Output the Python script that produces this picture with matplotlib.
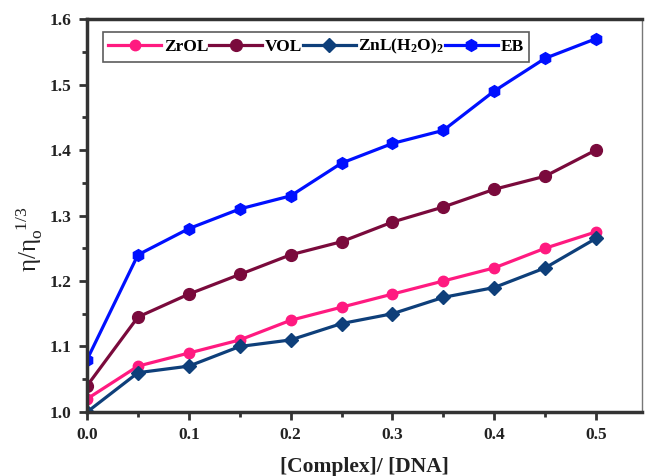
import matplotlib
matplotlib.use('Agg')
import matplotlib.pyplot as plt
import numpy as np

plt.rcParams['font.family'] = ['Liberation Serif', 'DejaVu Serif']
plt.rcParams['mathtext.fontset'] = 'custom'
plt.rcParams['mathtext.rm'] = 'Liberation Serif:bold'
plt.rcParams['mathtext.bf'] = 'Liberation Serif:bold'
plt.rcParams['mathtext.it'] = 'Liberation Serif:italic'

# ratio [Complex]/[DNA]
ratio = [0.0, 0.05, 0.1, 0.15, 0.2, 0.25, 0.3, 0.35, 0.4, 0.45, 0.5]

# relative viscosity (eta/eta0)^(1/3)
zrol = [1.02, 1.07, 1.09, 1.11, 1.14, 1.16, 1.18, 1.20, 1.22, 1.25, 1.275]
vol = [1.04, 1.145, 1.18, 1.21, 1.24, 1.26, 1.29, 1.313, 1.34, 1.36, 1.40]
znl = [1.00, 1.06, 1.07, 1.10, 1.11, 1.135, 1.15, 1.175, 1.19, 1.22, 1.265]
eb = [1.08, 1.24, 1.28, 1.31, 1.33, 1.38, 1.41, 1.43, 1.49, 1.54, 1.57]

labels = ['ZrOL', 'VOL', r'ZnL(H$_2$O)$_2$', 'EB']
colors = ['#ff1a80', '#7a0a3c', '#0e3f7a', '#0010ff']
markers = ['o', 'o', 'D', 'h']
msizes = [7.5, 8.5, 7, 8.5]

fig = plt.figure(figsize=(6.45, 4.76), dpi=100)
ax = fig.add_axes([0.135, 0.1345, 0.86, 0.8255])

for ys, lab, c, m, ms in zip([zrol, vol, znl, eb], labels, colors, markers, msizes):
    ax.plot(ratio, ys, color=c, marker=m, markersize=ms, linewidth=2.3, label=lab)

ax.set_xlim(0, 0.545)
ax.set_ylim(1.0, 1.6)
ax.set_xticks(np.arange(0, 0.51, 0.1))
ax.set_xticks(np.arange(0.05, 0.5, 0.1), minor=True)
ax.set_yticks(np.arange(1.0, 1.61, 0.1))
ax.set_yticks(np.arange(1.05, 1.6, 0.1), minor=True)
ax.set_xticklabels(['%.1f' % v for v in np.arange(0, 0.51, 0.1)])
ax.set_yticklabels(['%.1f' % v for v in np.arange(1.0, 1.61, 0.1)])
ax.tick_params(which='major', direction='out', length=6, width=2, labelsize=12.5, colors='#333333', pad=5)
ax.tick_params(which='minor', direction='out', length=3.5, width=2, colors='#333333')
for t in ax.get_xticklabels() + ax.get_yticklabels():
    t.set_fontweight('bold')
    t.set_color('#222222')

for s in ['left', 'bottom', 'top']:
    ax.spines[s].set_linewidth(2.5)
    ax.spines[s].set_color('#333333')
ax.spines['right'].set_linewidth(1)
ax.spines['right'].set_color('#777777')

ax.set_xlabel('[Complex]/ [DNA]', fontsize=15.5, fontweight='bold', labelpad=10, color='#222222')
ax.set_ylabel(r'$\mathregular{\eta/\eta_o^{\ \ 1/3}}$', fontsize=18, color='#222222')
ax.yaxis.set_label_coords(-0.076, 0.44)

leg = ax.legend(loc='upper left', ncol=4, bbox_to_anchor=(0.029, 0.967), frameon=True, fancybox=False,
                handlelength=3.05, handletextpad=0.15, columnspacing=0.05, borderpad=0.3,
                borderaxespad=0, prop={'weight': 'bold', 'size': 12.5})
leg.get_frame().set_edgecolor('#333333')
leg.get_frame().set_linewidth(1.2)

fig.savefig('out.png', dpi=100)
